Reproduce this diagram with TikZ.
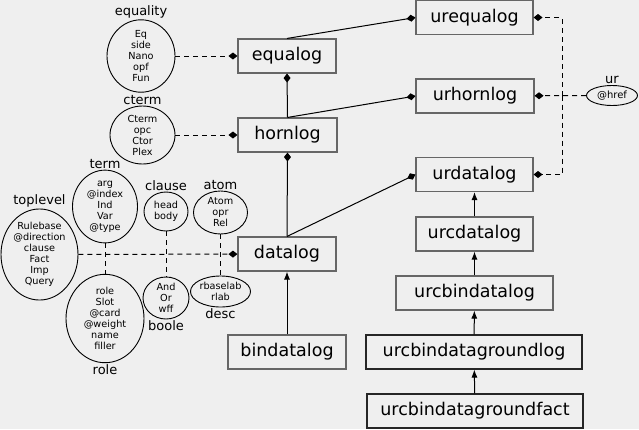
\documentclass[tikz,border=0pt]{standalone}
\usepackage{fontspec}
\setmainfont{DejaVu Sans}
\usepackage{xcolor}
\usetikzlibrary{shapes,arrows.meta,positioning}

\definecolor{paper}{RGB}{239,239,239}

\begin{document}
\begin{tikzpicture}[x=1pt,y=-1pt]

    % languages (boxes) and modules (ellipses)
    \edef\sizebox{34pt}
    \tikzstyle{lang}=[draw=black!60,line width=1.1pt,rectangle,minimum height=\sizebox,inner sep=0pt,font=\fontsize{17.5}{20}\selectfont]
    \tikzstyle{langdark}=[lang,draw=black!85]
    \tikzstyle{mod}=[draw,line width=0.9pt,ellipse,inner sep=0pt,align=center,font=\fontsize{9.7}{11}\selectfont]
    \tikzstyle{modname}=[inner sep=1pt,font=\fontsize{13}{14}\selectfont]
    \tikzstyle{part}=[line width=1pt,-{Diamond[length=9pt,width=7pt]}]
    \tikzstyle{incl}=[part,dash pattern=on 5pt off 4pt]
    \tikzstyle{ext}=[line width=1pt,-{Latex[length=8pt,width=6pt]}]

    \path[use as bounding box,fill=paper] (0,0) rectangle (639,429);

    \node [lang,minimum width=117pt] (urequalog) at (474.5,17.5) {urequalog};
    \node [lang,minimum width=98pt] (equalog) at (287,56) {equalog};
    \node [lang,minimum width=118pt] (urhornlog) at (475,96) {urhornlog};
    \node [lang,minimum width=99pt] (hornlog) at (287.5,135) {hornlog};
    \node [lang,minimum width=117pt] (urdatalog) at (474.5,174.5) {urdatalog};
    \node [lang,minimum width=98pt] (datalog) at (287,254) {datalog};
    \node [lang,minimum width=117pt] (urcdatalog) at (474.5,234) {urcdatalog};
    \node [lang,minimum width=157pt] (urcbindatalog) at (474.5,293) {urcbindatalog};
    \node [lang,minimum width=118pt] (bindatalog) at (287,352) {bindatalog};
    \node [langdark,minimum width=216pt] (urcbindatagroundlog) at (474,352) {urcbindatagroundlog};
    \node [langdark,minimum width=216pt] (urcbindatagroundfact) at (475,411) {urcbindatagroundfact};

    \node [mod,minimum width=68pt,minimum height=67pt,label={[modname]above:equality}] (equality) at (141,56) {Eq\\side\\Nano\\opf\\Fun};
    \node [mod,minimum width=65pt,minimum height=58pt,label={[modname]above:cterm}] (cterm) at (142.5,135) {Cterm\\opc\\Ctor\\Plex};
    \node [mod,minimum width=65pt,minimum height=65pt,label={[modname]above:term}] (term) at (105,206.5) {arg\\@index\\Ind\\Var\\@type};
    \node [mod,minimum width=44pt,minimum height=39pt,label={[modname]above:clause}] (clause) at (166,211.5) {head\\body};
    \node [mod,minimum width=54pt,minimum height=43pt,label={[modname]above:atom}] (atom) at (220.5,212.5) {Atom\\opr\\Rel};
    \node [mod,minimum width=77pt,minimum height=81pt,label={[modname]above:toplevel}] (toplevel) at (39.5,254.5) {Rulebase\\@direction\\clause\\Fact\\Imp\\Query};
    \node [mod,minimum width=78pt,minimum height=77pt,label={[modname]below:role}] (role) at (105,318.5) {role\\Slot\\@card\\@weight\\name\\filler};
    \node [mod,minimum width=46pt,minimum height=42pt,label={[modname]below:boole}] (boole) at (166,298) {And\\Or\\wff};
    \node [mod,minimum width=60pt,minimum height=31pt,label={[modname]below:desc}] (desc) at (220.5,291.5) {rbaselab\\rlab};
    \node [mod,minimum width=51pt,minimum height=20pt,font=\fontsize{10}{11}\selectfont,label={[modname]above:ur}] (ur) at (612,95.5) {@href};

    % sublanguages
    \draw [part] (equalog.north) -- (urequalog.west);
    \draw [part] (hornlog.north) -- (equalog.south);
    \draw [part] (hornlog.north) -- (urhornlog.west);
    \draw [part] (datalog.north) -- (hornlog.south);
    \draw [part] (datalog.north) -- (urdatalog.west);

    \draw [ext] (bindatalog) -- (datalog);
    \draw [ext] (urcdatalog) -- (urdatalog);
    \draw [ext] (urcbindatalog) -- (urcdatalog);
    \draw [ext] (urcbindatagroundlog) -- (urcbindatalog);
    \draw [ext] (urcbindatagroundfact) -- (urcbindatagroundlog);

    % modules
    \draw [incl] (equality) -- (equalog);
    \draw [incl] (cterm) -- (hornlog);
    \draw [incl] (toplevel) -- (datalog);
    \draw [incl,-] (term) -- (role);
    \draw [incl,-] (clause) -- (boole);
    \draw [incl,-] (atom) -- (desc);

    \coordinate (urjoin) at (562,95.5);
    \draw [incl] (ur) -- (urhornlog);
    \draw [incl] (urjoin) |- (urequalog.east);
    \draw [incl] (urjoin) |- (urdatalog.east);

\end{tikzpicture}
\end{document}
